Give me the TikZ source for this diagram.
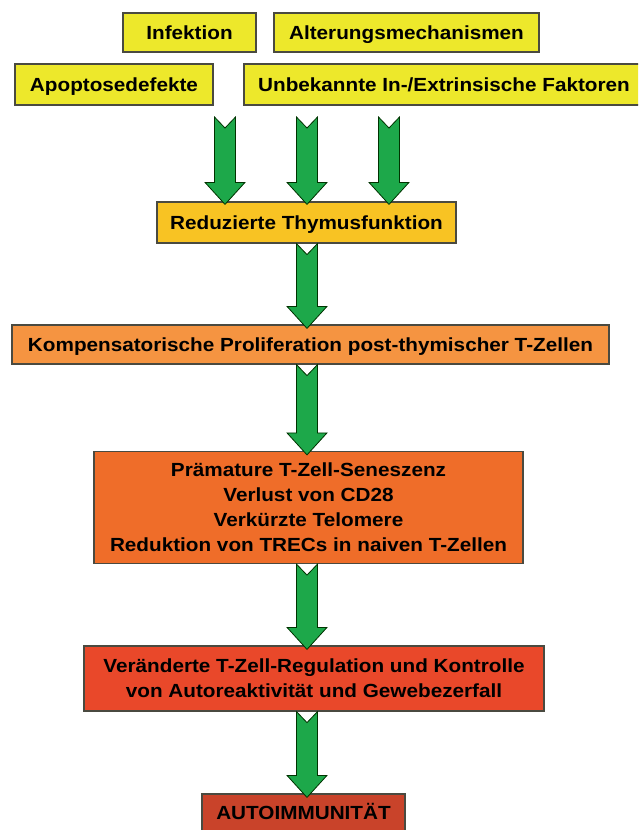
\documentclass[tikz,border=0pt]{standalone}
\usepackage{fontspec}
\setmainfont[FakeStretch=1.09]{Liberation Sans}
\usetikzlibrary{calc}
\definecolor{cyel}{HTML}{EDE82B}
\definecolor{cgold}{HTML}{F8C323}
\definecolor{clor}{HTML}{F59441}
\definecolor{cor}{HTML}{EF6D29}
\definecolor{cred}{HTML}{E9482A}
\definecolor{cdred}{HTML}{C9432A}
\definecolor{cgreen}{HTML}{1DA84A}
\definecolor{cedge}{HTML}{4A4A40}
\newcommand{\boxfont}{\fontsize{19}{25}\selectfont\bfseries}
\newcommand{\fatarrow}[2]{%
  \filldraw[arrowbody] let \p1=#1, \p2=#2 in
  (\x1-10.5pt,\y1) -- (\x1,\y1-11pt) -- (\x1+10.5pt,\y1) -- (\x1+10.5pt,\y2+22pt)
  -- (\x1+20pt,\y2+22pt) -- (\x1,\y2) -- (\x1-20pt,\y2+22pt) -- (\x1-10.5pt,\y2+22pt) -- cycle;}
\begin{document}
\begin{tikzpicture}[x=1pt,y=-1pt,
  box/.style={draw=cedge, line width=1.2pt, inner sep=0pt, align=center, font=\boxfont, text=black},
  oneline/.style={box, text height=17.2pt, text depth=3.4pt},
  arrowbody/.style={fill=cgreen, draw=black!80!green, line width=0.8pt, line join=miter}]
\useasboundingbox (0,0) rectangle (638,830);
\clip (0,0) rectangle (638,830);
% top causes
\node[oneline, fill=cyel, minimum width=133pt, minimum height=39pt] (inf) at (189.5,32.5) {Infektion};
\node[oneline, fill=cyel, minimum width=265pt, minimum height=39pt] (alt) at (406.5,32.5) {Alterungsmechanismen};
\node[oneline, fill=cyel, minimum width=198pt, minimum height=41pt] (apo) at (114,84.5) {Apoptosedefekte};
\node[oneline, fill=cyel, minimum width=400pt, minimum height=41pt] (unb) at (444,84.5) {Unbekannte In-/Extrinsische Faktoren};
% chain
\node[oneline, fill=cgold, minimum width=299pt, minimum height=41pt] (thy) at (306.5,222.5) {Reduzierte Thymusfunktion};
\node[oneline, fill=clor, minimum width=597pt, minimum height=39pt] (komp) at (310.5,344.5) {Kompensatorische Proliferation post-thymischer T-Zellen};
\node[box, fill=cor, minimum width=429pt, minimum height=112pt] (sen) at (308.5,507.5) {Prämature T-Zell-Seneszenz\\Verlust von CD28\\Verkürzte Telomere\\Reduktion von TRECs in naiven T-Zellen};
\node[box, fill=cred, minimum width=460pt, minimum height=65pt] (reg) at (314,678.5) {Veränderte T-Zell-Regulation und Kontrolle\\von Autoreaktivität und Gewebezerfall};
\node[oneline, fill=cdred, minimum width=203pt, minimum height=38pt] (auto) at (303.5,813) {AUTOIMMUNITÄT};
% arrow anchors
\coordinate (t1) at (225,117);
\coordinate (t2) at (307,117);
\coordinate (t3) at (389,117);
\coordinate (ax) at (307,0);
\fatarrow{(t1)}{($(thy.north -| t1)+(0,3)$)}
\fatarrow{(t2)}{($(thy.north -| t2)+(0,3)$)}
\fatarrow{(t3)}{($(thy.north -| t3)+(0,3)$)}
\fatarrow{(thy.south -| ax)}{($(komp.north -| ax)+(0,4)$)}
\fatarrow{(komp.south -| ax)}{($(sen.north -| ax)+(0,4)$)}
\fatarrow{(sen.south -| ax)}{($(reg.north -| ax)+(0,4)$)}
\fatarrow{(reg.south -| ax)}{($(auto.north -| ax)+(0,4)$)}
\end{tikzpicture}
\end{document}
